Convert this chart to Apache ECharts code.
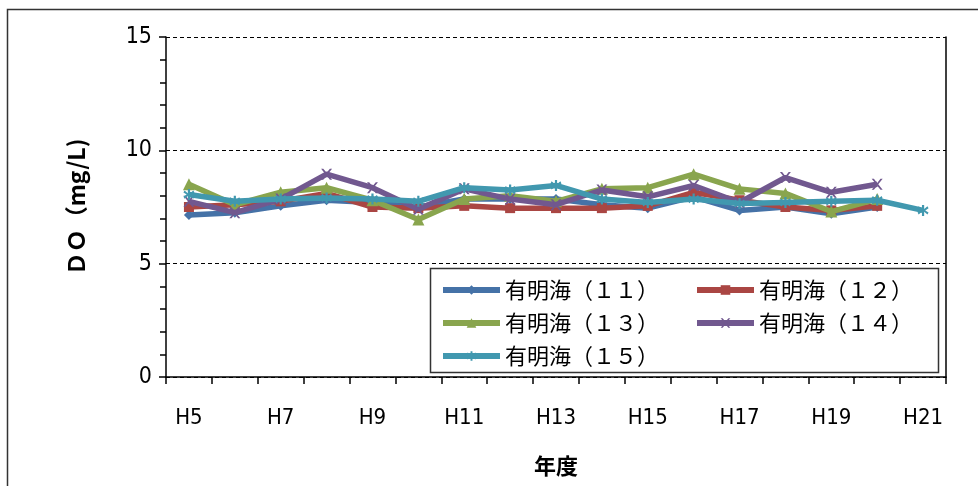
<!DOCTYPE html>
<html><head><meta charset="utf-8">
<script src="https://cdn.jsdelivr.net/npm/echarts@6/dist/echarts.min.js"></script>
<style>html,body{margin:0;padding:0;background:#fff}#c{width:978px;height:486px}</style>
</head><body><div id="c"></div>
<script>
const categories = ['H5','H6','H7','H8','H9','H10','H11','H12','H13','H14','H15','H16','H17','H18','H19','H20','H21'];
const names = ['有明海（１１）','有明海（１２）','有明海（１３）','有明海（１４）','有明海（１５）'];
const s11 = [7.15,7.25,7.55,7.8,7.7,7.5,7.85,7.85,7.85,7.6,7.45,7.95,7.35,7.5,7.2,7.5,null];
const s12 = [7.5,7.6,7.75,8.1,7.5,7.45,7.55,7.45,7.45,7.45,7.55,8.15,7.8,7.5,7.35,7.55,null];
const s13 = [8.5,7.6,8.15,8.35,7.8,6.95,7.85,8.0,7.75,8.3,8.35,8.95,8.3,8.1,7.3,7.85,null];
const s14 = [7.75,7.25,7.85,8.95,8.35,7.4,8.3,7.85,7.6,8.25,7.95,8.45,7.7,8.8,8.15,8.5,null];
const s15 = [8.05,7.75,7.85,7.9,7.85,7.75,8.35,8.25,8.45,7.85,7.7,7.85,7.65,7.7,7.75,7.8,7.35];
const yTicks = [0,5,10,15];

const colors = ['#4572A7','#AA4643','#89A54E','#71588F','#4198AF'];
const symX = 'path://M0,0L2,0L5,3L8,0L10,0L6,4L10,8L8,8L5,5L2,8L0,8L4,4Z';
const symAst = 'path://M4,0L6,0L6,3L9,1L10,2.5L7,4L10,5.5L9,7L6,5L6,8L4,8L4,5L1,7L0,5.5L3,4L0,2.5L1,1L4,3Z';
const symbols = ['diamond','rect','triangle',symX,symAst];
const sizes = [10,10,12,11,11];
const data = [s11,s12,s13,s14,s15];

const series = data.map((d,i)=>({
  name: names[i], type:'line', data:d, symbol:symbols[i], symbolSize:sizes[i],
  showAllSymbol:true,
  lineStyle:{width:5.5, color:colors[i]},
  itemStyle:{color:colors[i]}, z: 2+i
}));
const chart = echarts.init(document.getElementById('c'));
const labelFont = '"Liberation Sans Narrow","DejaVu Sans Condensed",sans-serif';
const legendCommon = {orient:'vertical', itemWidth:57, itemHeight:12, itemGap:11,
  lineStyle:{width:6}, itemStyle:{},
  textStyle:{fontSize:22, color:'#000', fontFamily:'"Noto Sans CJK JP",sans-serif'}, padding:0};
chart.setOption({
  animation:false,
  backgroundColor:'#fff',
  grid:{left:166,right:32,top:37,bottom:109},
  xAxis:{type:'category', data:categories, boundaryGap:true,
    axisLine:{lineStyle:{color:'#000',width:1.5}},
    axisTick:{show:true, interval:0, length:7, lineStyle:{color:'#000',width:1.5}},
    axisLabel:{interval:1, color:'#000', fontSize:22, fontFamily:labelFont, margin:30},
    name:'年度', nameLocation:'middle', nameGap:78,
    nameTextStyle:{fontSize:22, fontWeight:'bold', color:'#000', fontFamily:'"Noto Sans CJK JP",sans-serif'}
  },
  yAxis:[{type:'value', min:yTicks[0], max:yTicks[yTicks.length-1], interval:5,
    axisLine:{show:true, lineStyle:{color:'#000',width:1.5}},
    axisTick:{show:true, length:7, lineStyle:{color:'#000',width:1.5}},
    minorTick:{show:true, splitNumber:5, length:6, lineStyle:{color:'#000',width:1.5}},
    axisLabel:{color:'#000', fontSize:23, fontFamily:labelFont, margin:14},
    splitLine:{show:true, lineStyle:{color:'#000', type:[4,3], width:1}},
    name:'ＤＯ（mg/L)', nameLocation:'middle', nameGap:78,
    nameTextStyle:{fontSize:23, fontWeight:'bold', color:'#000', fontFamily:'"Noto Sans CJK JP",sans-serif'}
  },{type:'value', min:0, max:15, interval:5, position:'right',
    axisLine:{show:true, onZero:false, lineStyle:{color:'#000',width:1.5}},
    axisTick:{show:false}, axisLabel:{show:false}, splitLine:{show:false}
  }],
  legend:[
    Object.assign({left:440, top:279, data:[names[0],names[2],names[4]]}, legendCommon),
    Object.assign({left:694, top:279, data:[names[1],names[3]]}, legendCommon)
  ],
  graphic:[
    {type:'rect', shape:{x:7.5,y:9.5,width:1000,height:1000}, style:{fill:null, stroke:'#333', lineWidth:1.5}, z:-1},
    {type:'rect', shape:{x:430.5,y:268.5,width:508,height:104}, style:{fill:'#fff', stroke:'#333', lineWidth:1.5}, z:1}
  ],
  series: series
});
</script></body></html>
